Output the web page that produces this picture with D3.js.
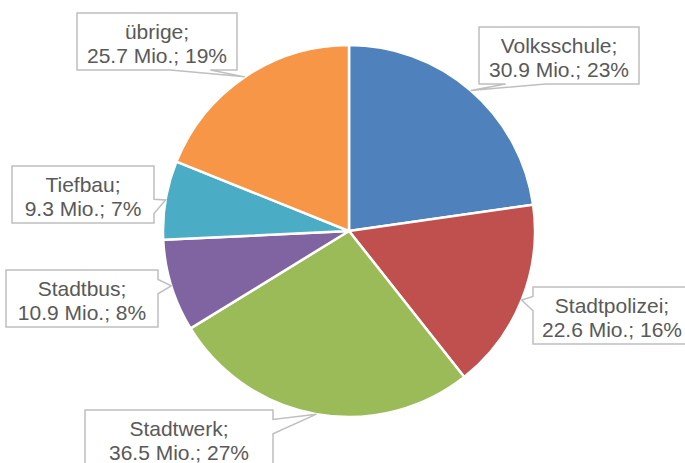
<!DOCTYPE html>
<html>
<head>
<meta charset="utf-8">
<script src="https://cdn.jsdelivr.net/npm/d3@7"></script>
<style>
  body { margin: 0; background: #fff; }
  svg { display: block; }
  .lbl { font-family: "Liberation Sans", Arial, sans-serif; font-size: 21px; fill: #595959; }
</style>
</head>
<body>
<div id="chart"></div>
<script>
// data
const categories = ["Volksschule", "Stadtpolizei", "Stadtwerk", "Stadtbus", "Tiefbau", "übrige"];
const values = [30.9, 22.6, 36.5, 10.9, 9.3, 25.7];
const shares = [23, 16, 27, 8, 7, 19];
const colors = ["#4F81BD", "#C0504D", "#9BBB59", "#8064A2", "#4BACC6", "#F79646"];

// callout boxes (left, top, width, height)
const boxes = [
  [479, 27, 160, 57],
  [533, 287, 158, 57],
  [85, 410, 188, 57],
  [6, 270, 152, 57],
  [12, 166, 142, 57],
  [77, 13, 160, 57]
];

const width = 685, height = 463;
const cx = 349, cy = 231, R = 186;

const svg = d3.select("#chart").append("svg")
  .attr("width", width)
  .attr("height", height);

const data = categories.map((c, i) => ({ name: c, value: values[i], share: shares[i], color: colors[i], box: boxes[i] }));

const pie = d3.pie().sort(null).value(d => d.value);
const arc = d3.arc().innerRadius(0).outerRadius(R);
const arcs = pie(data);

const g = svg.append("g").attr("transform", `translate(${cx},${cy})`);

g.selectAll("path")
  .data(arcs)
  .enter().append("path")
  .attr("d", arc)
  .attr("fill", d => d.data.color)
  .attr("stroke", "#fff")
  .attr("stroke-width", 2.5)
  .attr("stroke-linejoin", "round");

// rectangle with a wedge pointing at the slice
function calloutPath(b, tx, ty) {
  const [x, y, w, h] = b;
  const mx = x + w / 2, my = y + h / 2;
  const dx = (tx - mx) / w, dy = (ty - my) / h;
  let pts;
  if (Math.abs(dx) > Math.abs(dy)) {
    // side edge
    const a = ty > my ? y + h * 7 / 12 : y + h * 2 / 12;
    const c = ty > my ? y + h * 10 / 12 : y + h * 5 / 12;
    if (dx > 0) {
      pts = [[x, y], [x + w, y], [x + w, a], [tx, ty], [x + w, c], [x + w, y + h], [x, y + h]];
    } else {
      pts = [[x, y], [x + w, y], [x + w, y + h], [x, y + h], [x, c], [tx, ty], [x, a]];
    }
  } else {
    const a = tx > mx ? x + w * 7 / 12 : x + w * 2 / 12;
    const c = tx > mx ? x + w * 10 / 12 : x + w * 5 / 12;
    if (dy > 0) {
      pts = [[x, y], [x + w, y], [x + w, y + h], [c, y + h], [tx, ty], [a, y + h], [x, y + h]];
    } else {
      pts = [[x, y], [a, y], [tx, ty], [c, y], [x + w, y], [x + w, y + h], [x, y + h]];
    }
  }
  return "M" + pts.map(p => p.join(",")).join("L") + "Z";
}

const labels = svg.append("g").selectAll("g")
  .data(arcs)
  .enter().append("g");

labels.append("path")
  .attr("d", d => {
    const mid = (d.startAngle + d.endAngle) / 2;
    const tx = cx + R * Math.sin(mid);
    const ty = cy - R * Math.cos(mid);
    return calloutPath(d.data.box, tx, ty);
  })
  .attr("fill", "#fff")
  .attr("stroke", "#BFBFBF")
  .attr("stroke-width", 1.5);

const txt = labels.append("text")
  .attr("class", "lbl")
  .attr("text-anchor", "middle");

txt.append("tspan")
  .attr("x", d => d.data.box[0] + d.data.box[2] / 2)
  .attr("y", d => d.data.box[1] + 26)
  .text(d => d.data.name + ";");

txt.append("tspan")
  .attr("x", d => d.data.box[0] + d.data.box[2] / 2)
  .attr("y", d => d.data.box[1] + 50)
  .text(d => d.data.value.toFixed(1) + " Mio.; " + d.data.share + "%");
</script>
</body>
</html>
